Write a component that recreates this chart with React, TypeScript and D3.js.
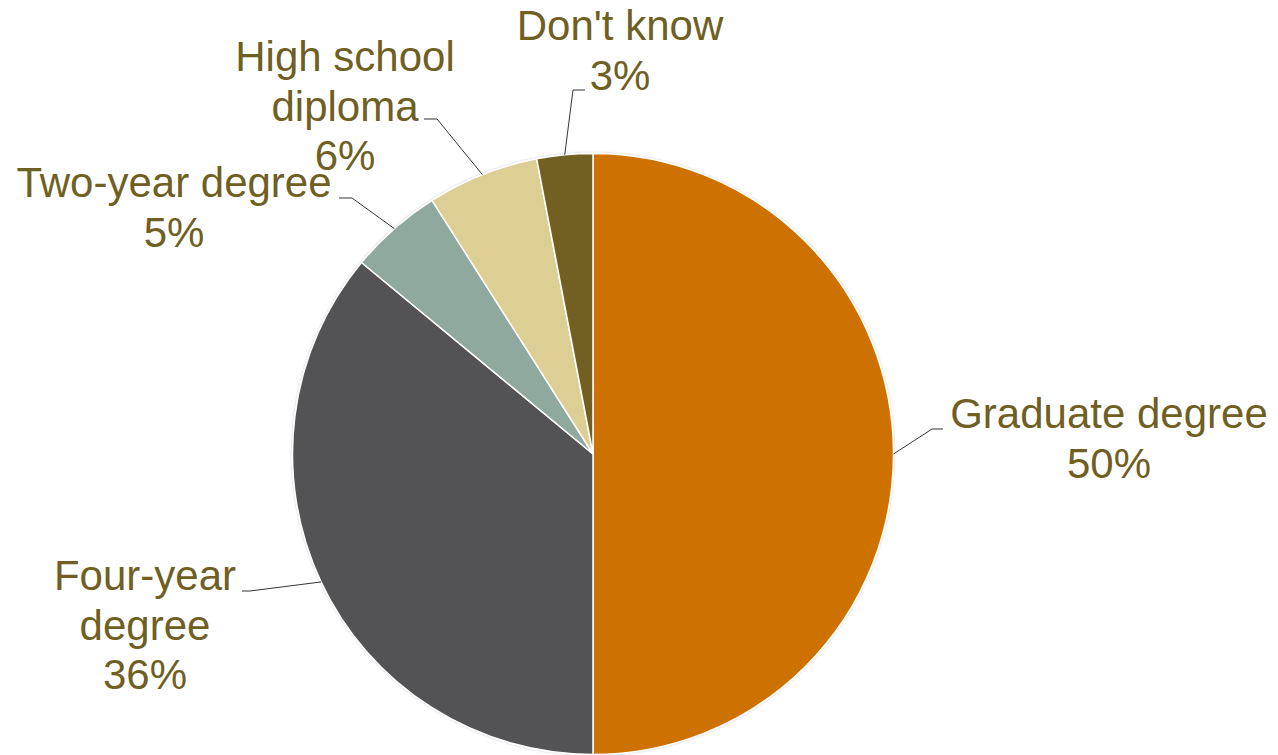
import React from "react";
import * as d3 from "d3";

const categories = ["Graduate degree", "Four-year degree", "Two-year degree", "High school diploma", "Don't know"];
const values = [50, 36, 5, 6, 3];
const colors = ["#CD7100", "#525254", "#8FA99E", "#DDCE94", "#716024"];

// label layout: lines of text, center x, first baseline y, elbow point
const labelLines = [
  ["Graduate degree", "50%"],
  ["Four-year", "degree", "36%"],
  ["Two-year degree", "5%"],
  ["High school", "diploma", "6%"],
  ["Don't know", "3%"],
];
const labelLayout = [
  { cx: 1109, y: 428, ex: 943, ey: 429, hx: 932 },
  { cx: 145, y: 590, ex: 242, ey: 591, hx: 250 },
  { cx: 174, y: 197, ex: 339, ey: 198, hx: 352 },
  { cx: 345, y: 71, ex: 424, ey: 119, hx: 437 },
  { cx: 620, y: 40, ex: 585, ey: 90, hx: 573 },
];

const W = 1278;
const H = 755;
const CX = 593;
const CY = 454;
const R = 300.5;
const LINE_H = 49.5;
const TEXT_COLOR = "#705F22";

export default function App() {
  const pie = d3.pie<number>().sort(null).value((d) => d);
  const arcs = pie(values);
  const arc = d3.arc<d3.PieArcDatum<number>>().innerRadius(0).outerRadius(R);

  return (
    <svg
      width={W}
      height={H}
      style={{ position: "absolute", left: 0, top: 0, display: "block", background: "#fff" }}
    >
      <defs>
        <filter id="sh" x="-10%" y="-10%" width="120%" height="120%">
          <feDropShadow dx="0" dy="0" stdDeviation="1.2" floodColor="#000" floodOpacity="0.25" />
        </filter>
      </defs>
      <g transform={`translate(${CX},${CY})`}>
        <g filter="url(#sh)">
          {arcs.map((a, i) => (
            <path key={i} d={arc(a) || ""} fill={colors[i]} stroke="#fff" strokeWidth={1.5} />
          ))}
        </g>
      </g>
      {arcs.map((a, i) => {
        const mid = (a.startAngle + a.endAngle) / 2;
        const px = CX + R * Math.sin(mid);
        const py = CY - R * Math.cos(mid);
        const L = labelLayout[i];
        return (
          <polyline
            key={"l" + i}
            points={`${px},${py} ${L.hx},${L.ey} ${L.ex},${L.ey}`}
            fill="none"
            stroke="#333"
            strokeWidth={1}
          />
        );
      })}
      {labelLines.map((lines, i) => {
        const L = labelLayout[i];
        return (
          <text
            key={"t" + i}
            textAnchor="middle"
            fontFamily="'Liberation Sans', Arial, sans-serif"
            fontSize={42}
            fill={TEXT_COLOR}
          >
            {lines.map((s, j) => (
              <tspan key={j} x={L.cx} y={L.y + j * LINE_H}>
                {s}
              </tspan>
            ))}
          </text>
        );
      })}
    </svg>
  );
}
